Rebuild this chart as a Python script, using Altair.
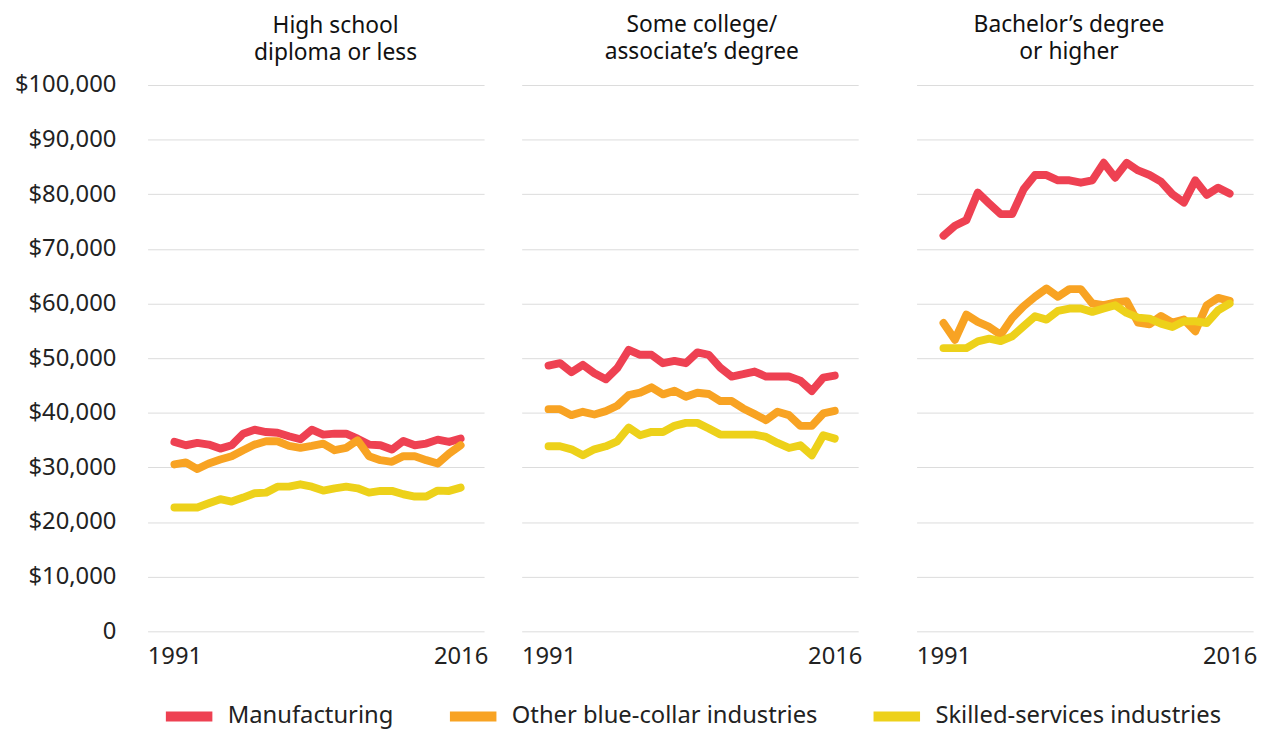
import altair as alt
import pandas as pd

years = list(range(1991, 2017))
series_names = ["Manufacturing", "Other blue-collar industries", "Skilled-services industries"]
series_colors = ["#EE4152", "#F8A323", "#EDD11A"]
panel_titles = [
    ["High school", "diploma or less"],
    ["Some college/", "associate’s degree"],
    ["Bachelor’s degree", "or higher"],
]
y_ticks = [0, 10000, 20000, 30000, 40000, 50000, 60000, 70000, 80000, 90000, 100000]
x_ticks = [1991, 2016]

# High school diploma or less
hs_manufacturing = [34670, 34060, 34480, 34180, 33450, 34060, 36180, 36900, 36480, 36360,
                    35700, 35150, 36900, 36000, 36180, 36180, 35270, 34180, 34060, 33270,
                    34850, 34060, 34360, 35090, 34670, 35270]
hs_blue_collar = [30550, 30910, 29700, 30730, 31450, 32060, 33150, 34180, 34790, 34790,
                  33940, 33580, 33940, 34360, 33150, 33580, 34970, 32060, 31330, 31030,
                  32060, 32060, 31330, 30730, 32550, 34060]
hs_skilled = [22670, 22670, 22670, 23450, 24180, 23760, 24480, 25270, 25390, 26480,
              26480, 26910, 26480, 25760, 26180, 26480, 26180, 25390, 25700, 25700,
              25090, 24670, 24670, 25760, 25700, 26300]

# Some college / associate's degree
sc_manufacturing = [48650, 49080, 47420, 48770, 47240, 46130, 48160, 51530, 50610, 50610,
                    49080, 49510, 49080, 51040, 50610, 48280, 46630, 47060, 47550, 46630,
                    46630, 46630, 45890, 43990, 46440, 46810]
sc_blue_collar = [40670, 40670, 39570, 40180, 39690, 40310, 41290, 43250, 43680, 44660,
                  43370, 44050, 42940, 43680, 43440, 42150, 42150, 40800, 39750, 38650,
                  40180, 39570, 37610, 37610, 39880, 40370]
sc_skilled = [33870, 33870, 33310, 32210, 33310, 33870, 34790, 37300, 35890, 36500,
              36500, 37610, 38160, 38160, 37120, 36010, 36010, 36010, 36010, 35580,
              34480, 33560, 34050, 32210, 35890, 35280]

# Bachelor's degree or higher
ba_manufacturing = [72420, 74240, 75270, 80300, 78300, 76360, 76360, 80910, 83520, 83520,
                    82550, 82550, 82120, 82550, 85760, 83030, 85760, 84360, 83520, 82300,
                    80000, 78480, 82550, 79880, 81210, 80120]
ba_blue_collar = [56440, 53370, 57980, 56630, 55710, 54290, 57360, 59510, 61230, 62760,
                  61230, 62640, 62640, 60000, 59690, 60180, 60430, 56500, 56200, 57730,
                  56500, 57060, 54910, 59690, 61040, 60490]
ba_skilled = [51840, 51840, 51840, 53070, 53560, 53130, 53990, 55830, 57670, 57060,
              58650, 59080, 59080, 58470, 59080, 59690, 58280, 57420, 57240, 56320,
              55710, 56750, 56750, 56440, 58770, 60000]

panel_series = [
    [hs_manufacturing, hs_blue_collar, hs_skilled],
    [sc_manufacturing, sc_blue_collar, sc_skilled],
    [ba_manufacturing, ba_blue_collar, ba_skilled],
]

rows = []
for p, series_list in enumerate(panel_series):
    for s, vals in enumerate(series_list):
        for yr, v in zip(years, vals):
            rows.append({"panel": p, "year": yr, "series": series_names[s], "order": s, "value": v})
df = pd.DataFrame(rows)

FONT = "Noto Sans"
TEXT = "#222222"
GRID = "#DCDCDC"

# long flat stroke symbol whose layout size stays small
legend = alt.Legend(
    title=None, orient="none", direction="horizontal",
    legendX=25, legendY=621,
    symbolType="M-2,0H2", symbolSize=552, symbolStrokeWidth=10,
    labelFontSize=24, labelFont=FONT, labelColor=TEXT, labelOffset=22,
    columnPadding=36, labelLimit=400,
)

title_dx = [20, 12, -16]
title_offset = [8, 21, 21]


def panel(i):
    if i == 0:
        y_axis = alt.Axis(
            values=y_ticks, title=None, grid=True, gridColor=GRID, ticks=False, domain=False,
            labelExpr="datum.value == 0 ? '0' : '$' + format(datum.value, ',')",
            labelPadding=32, labelFontSize=24, labelFont=FONT, labelColor=TEXT,
        )
    else:
        y_axis = alt.Axis(values=y_ticks, title=None, grid=True, gridColor=GRID,
                          ticks=False, domain=False, labels=False)
    return alt.Chart(df[df["panel"] == i]).mark_line(
        strokeWidth=8, strokeJoin="round", strokeCap="round"
    ).encode(
        x=alt.X("year:Q",
                scale=alt.Scale(domain=[1988.65, 2018.05], nice=False, zero=False),
                axis=alt.Axis(values=x_ticks, format="d", title=None, grid=False, ticks=False,
                              domain=False, labelFlush=False, labelPadding=14,
                              labelFontSize=24, labelFont=FONT, labelColor=TEXT)),
        y=alt.Y("value:Q", scale=alt.Scale(domain=[0, 100000], nice=False), axis=y_axis),
        color=alt.Color("series:N", scale=alt.Scale(domain=series_names, range=series_colors),
                        legend=legend),
        order=alt.Order("order:Q"),
    ).properties(
        width=340, height=552,
        title=alt.TitleParams(panel_titles[i], dx=title_dx[i], anchor="middle", frame="group",
                              font=FONT, fontSize=23, fontWeight="normal",
                              color="#111111", lineHeight=28, offset=title_offset[i]),
    )


chart = alt.hconcat(
    alt.hconcat(panel(0), panel(1), spacing=33),
    panel(2),
    spacing=54,
).properties(
    padding={"left": 6, "top": 2, "right": 5, "bottom": 0},
).configure_view(stroke=None)

chart.save("out.html", embed_options={"renderer": "svg", "actions": False})
